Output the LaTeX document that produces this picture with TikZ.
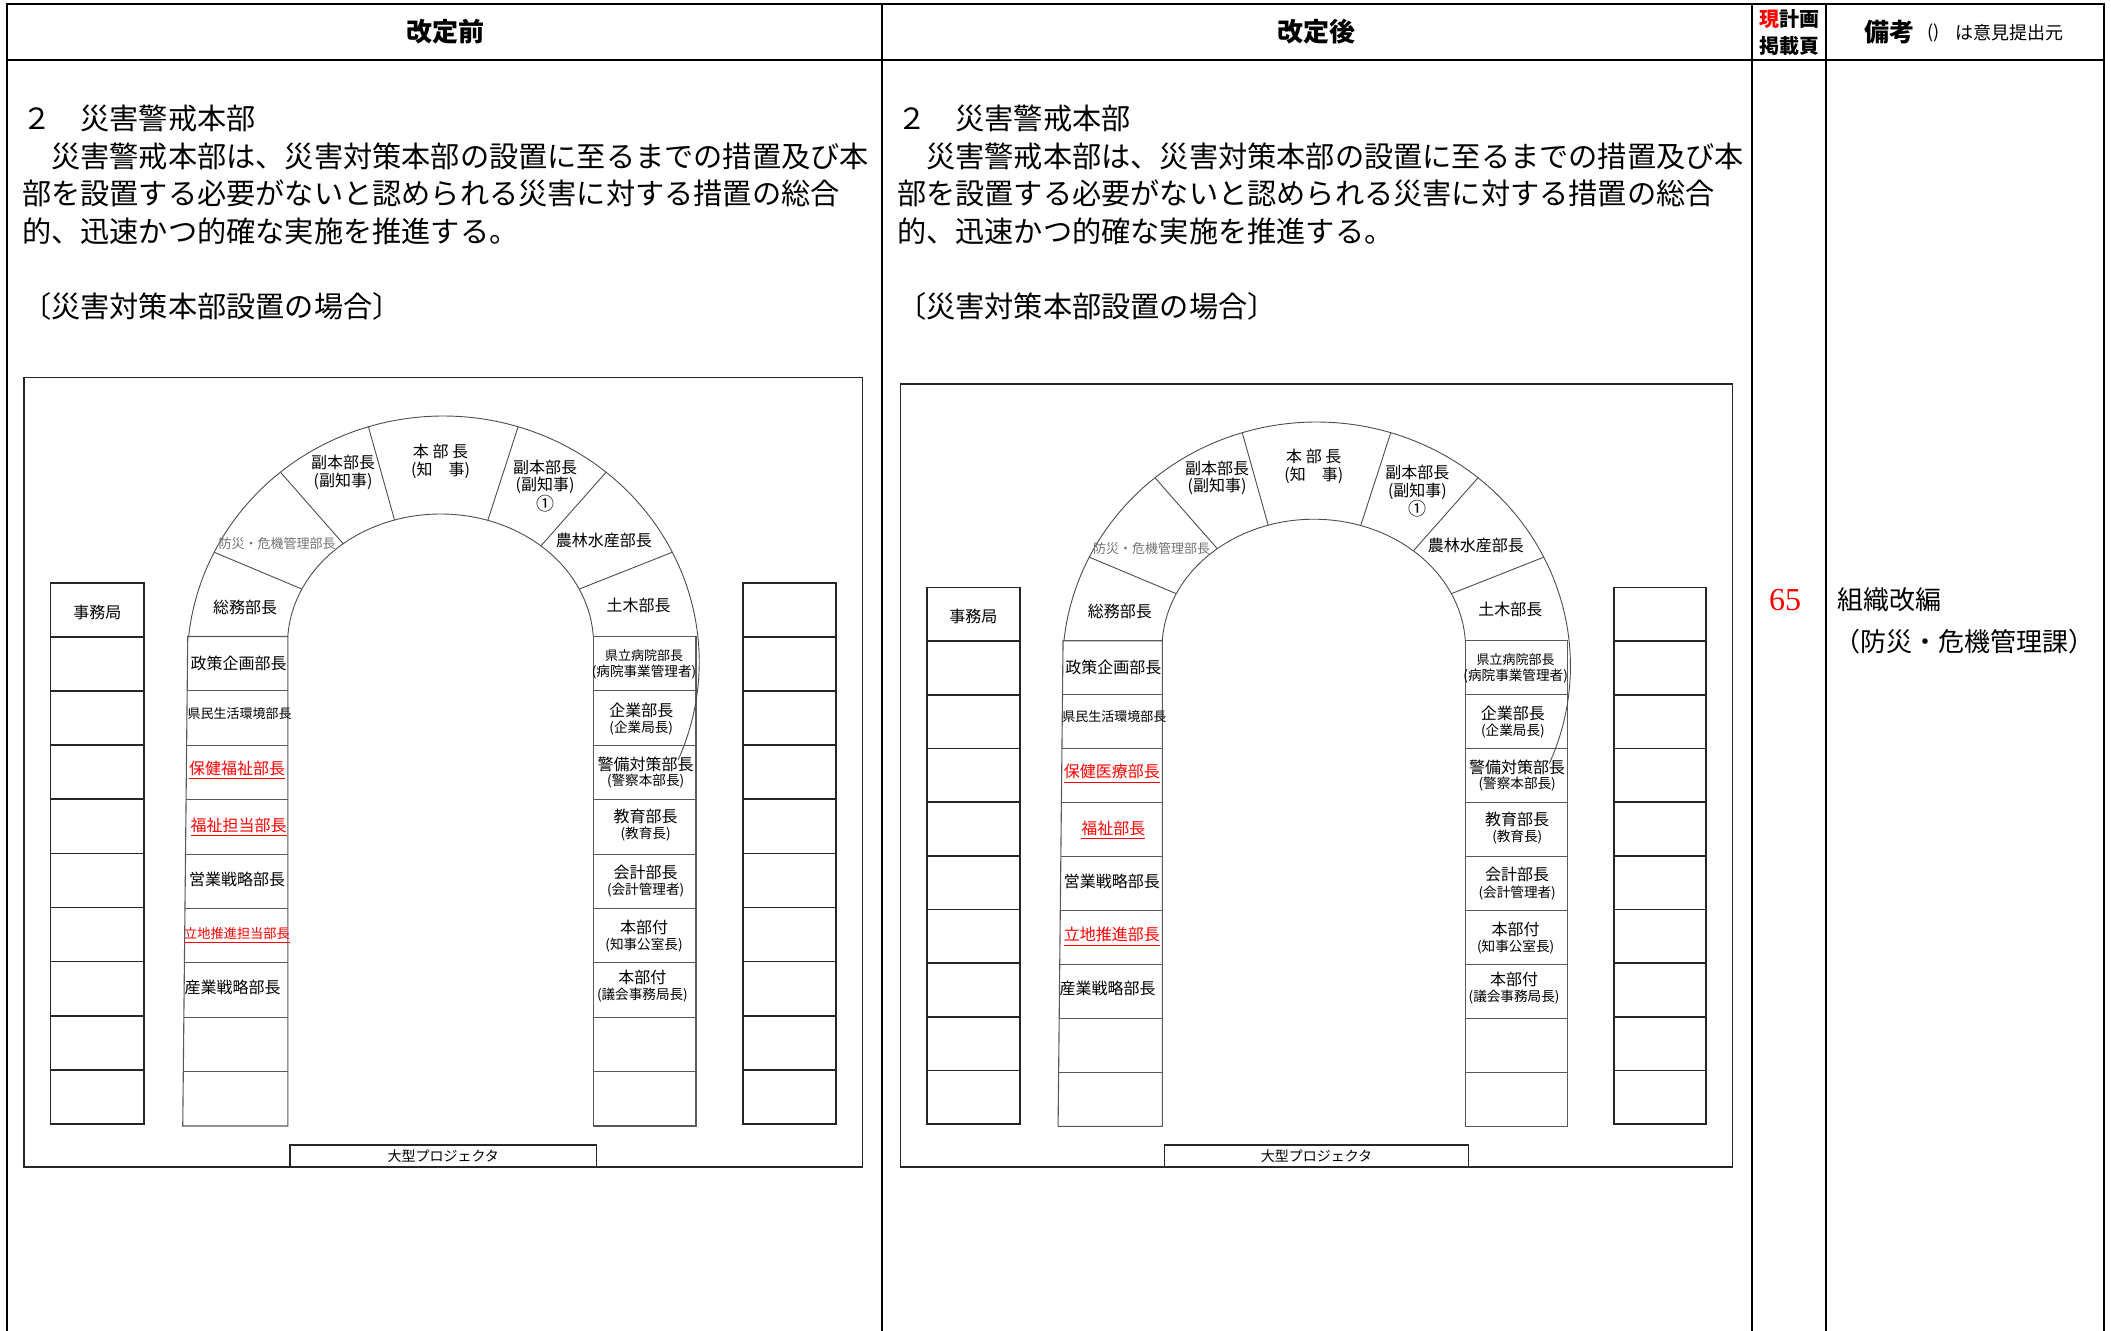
\documentclass[tikz,border=0pt]{standalone}
\usepackage{fontspec}
\newfontfamily\jp{Noto Sans CJK JP}
\newfontfamily\ser{Liberation Serif}
\newcommand\fsz[1]{\fontsize{#1}{#1}\selectfont}

% one seating plan, drawn in local coordinates (origin: middle of the frame's bottom edge)
\newcommand\panel[4]{%
  % frame and projector
  \draw[frm] (-419.3,-789.5) rectangle (419.3,0);
  \draw[frm] (-153.3,-22) rectangle (153.3,0);
  \node[font=\jp\fsz{7pt}] (#1proj) at (0,-11) {大型プロジェクタ};
  % secretariat desks (left and right)
  \foreach \xa/\xb in {-392.75/-299,300/392.6}{%
    \draw[desk] (\xa,-584.3) rectangle (\xb,-43);
    \foreach \i in {1,...,9}{\draw[desk] (\xa,{-584.3+54.13*\i}) -- (\xb,{-584.3+54.13*\i});}
  }
  % seat columns
  \draw[seat] (-255.5,-530.5) -- (-260.5,-41) -- (-155.4,-41) -- (-155.4,-530.5) -- cycle;
  \foreach \i in {1,...,8}{\draw[seat] ({-255.5-0.555*\i},{-530.5+54.39*\i}) -- (-155.4,{-530.5+54.39*\i});}
  \draw[seat] (150,-530.5) rectangle (252.75,-41);
  \foreach \i in {1,...,8}{\draw[seat] (150,{-530.5+54.39*\i}) -- (252.75,{-530.5+54.39*\i});}
  % arch
  \draw[arch] plot[domain=185.95:383.5,samples=160] ({256*cos(\x)},{-505+246*sin(\x)});
  \draw[arch] plot[domain=183.3:356.7,samples=120] ({-2.7+153*cos(\x)},{-523+130*sin(\x)});
  \foreach \a/\b in {206.5/205,230.5/230.5,253/252.5,287/288,309.5/311,333.5/335}{%
    \draw[arch] ({256*cos(\a)},{-505+246*sin(\a)}) -- ({-2.7+153*cos(\b)},{-523+130*sin(\b)});}
  % labels
  \node[lbl] (#1jim) at (-346,-555) {事務局};
  \node[lbl] (#1fuku1) at (-100.25,-704.5) {副本部長};
  \node[lbl] (#1fuku1s) at (-100.25,-686) {(副知事)};
  \node[lbl] (#1hon) at (-2.75,-716) {本 部 長};
  \node[lbl] (#1hons) at (-2.75,-697) {(知　事)};
  \node[lbl] (#1fuku2) at (101.75,-700) {副本部長};
  \node[lbl] (#1fuku2s) at (101.75,-681.5) {(副知事)};
  \node[font=\jp\fsz{9pt}] (#1fuku2n) at (101.75,-663.7) {①};
  \node[sm,text=black!55] (#1bosai) at (-166.25,-623) {防災・危機管理部長};
  \node[lbl] (#1norin) at (160.65,-627) {農林水産部長};
  \node[lbl] (#1somu) at (-198.25,-559.7) {総務部長};
  \node[lbl] (#1doboku) at (195.35,-562) {土木部長};
  \node[lbl] (#1seisaku) at (-204.75,-503.7) {政策企画部長};
  \node[sm] (#1kenmin) at (-203.65,-453.7) {県民生活環境部長};
  \node[lbl,chg] (#1red1) at (-206.25,-396.3) {\underline{#2}};
  \node[lbl,chg] (#1red2) at (-204.75,-339.3) {\underline{#3}};
  \node[lbl] (#1eigyo) at (-206.25,-287.7) {営業戦略部長};
  \node[lbl,chg] (#1red3) at (-206.25,-232) {\underline{#4}};
  \node[lbl] (#1sangyo) at (-210.65,-179.7) {産業戦略部長};
  \node[sm] (#1byoin) at (200.75,-511.3) {県立病院部長};
  \node[sub] (#1byoins) at (200.75,-495) {(病院事業管理者)};
  \node[lbl] (#1kigyo) at (198,-456.8) {企業部長};
  \node[sub] (#1kigyos) at (198,-439) {(企業局長)};
  \node[lbl] (#1keibi) at (202.35,-402.8) {警備対策部長};
  \node[sub] (#1keibis) at (202.35,-385.5) {(警察本部長)};
  \node[lbl] (#1kyoiku) at (202.35,-350.8) {教育部長};
  \node[sub] (#1kyoikus) at (202.35,-332.5) {(教育長)};
  \node[lbl] (#1kaikei) at (202.35,-294.5) {会計部長};
  \node[sub] (#1kaikeis) at (202.35,-276.5) {(会計管理者)};
  \node[lbl] (#1fz1) at (200.75,-239.2) {本部付};
  \node[sub] (#1fz1s) at (200.75,-221.7) {(知事公室長)};
  \node[lbl] (#1fz2) at (199.15,-189.5) {本部付};
  \node[sub] (#1fz2s) at (199.15,-171.5) {(議会事務局長)};
}

\begin{document}
\begin{tikzpicture}[x=0.5pt,y=-0.5pt,
  every node/.style={inner sep=0pt,outer sep=0pt},
  tbl/.style={line width=1.2pt,draw=black,line cap=rect},
  frm/.style={line width=0.8pt,draw=black!85},
  desk/.style={line width=0.85pt,draw=black!85},
  seat/.style={line width=0.55pt,draw=black!65},
  arch/.style={line width=0.45pt,draw=black!70},
  lbl/.style={font=\jp\fsz{8pt}},
  sub/.style={font=\jp\fsz{6.8pt}},
  sm/.style={font=\jp\fsz{6.5pt}},
  chg/.style={text=red},
  body/.style={font=\jp\fsz{14.6pt},anchor=west},
  hdr/.style={font=\jp\bfseries\fsz{13pt}}]
\useasboundingbox (0,0) rectangle (2111,1331);

% table grid
\draw[tbl] (7,4) -- (2104,4);
\draw[tbl] (7,60) -- (2104,60);
\foreach \xx in {7,882,1752,1826,2104}{\draw[tbl] (\xx,4) -- (\xx,1331);}

% header
\node[hdr] (h1) at (445,32) {改定前};
\node[hdr] (h2) at (1316.5,32) {改定後};
\node[font=\jp\bfseries\fsz{10pt}] (h3) at (1789,19) {\textcolor{red}{現}計画};
\node[font=\jp\bfseries\fsz{10pt}] (h4) at (1789,45.7) {掲載頁};
\node[font=\jp\bfseries\fsz{12.5pt},anchor=west] (h5) at (1864,32) {備考};
\node[font=\jp\fsz{9pt},anchor=west] (h6) at (1927,33) {()};
\node[font=\jp\fsz{9pt},anchor=west] (h7) at (1955,33) {は意見提出元};

% body text, before
\node[body] (Lt1) at (22,118) {２　災害警戒本部};
\node[body] (Lt2) at (22,156) {　災害警戒本部は、災害対策本部の設置に至るまでの措置及び本};
\node[body] (Lt3) at (22,193.5) {部を設置する必要がないと認められる災害に対する措置の総合};
\node[body] (Lt4) at (22,231) {的、迅速かつ的確な実施を推進する。};
\node[body] (Lt5) at (22,306) {〔災害対策本部設置の場合〕};
% body text, after
\node[body] (Rt1) at (897,118) {２　災害警戒本部};
\node[body] (Rt2) at (897,156) {　災害警戒本部は、災害対策本部の設置に至るまでの措置及び本};
\node[body] (Rt3) at (897,193.5) {部を設置する必要がないと認められる災害に対する措置の総合};
\node[body] (Rt4) at (897,231) {的、迅速かつ的確な実施を推進する。};
\node[body] (Rt5) at (897,306) {〔災害対策本部設置の場合〕};

% remarks
\node[font=\ser\fsz{16pt},text=red] (pg) at (1785,600) {65};
\node[font=\jp\fsz{13pt},anchor=west] (r1) at (1837,600) {組織改編};
\node[font=\jp\fsz{13pt},anchor=west] (r2) at (1834,642) {（防災・危機管理課）};

% seating plans
\begin{scope}[shift={(443.25,1167)}]
  \panel{L}{保健福祉部長}{福祉担当部長}{\fsz{6.6pt}立地推進担当部長}
\end{scope}
\begin{scope}[shift={(1316.5,1167)},scale=0.992]
  \panel{R}{保健医療部長}{福祉部長}{立地推進部長}
\end{scope}
\end{tikzpicture}
\end{document}
